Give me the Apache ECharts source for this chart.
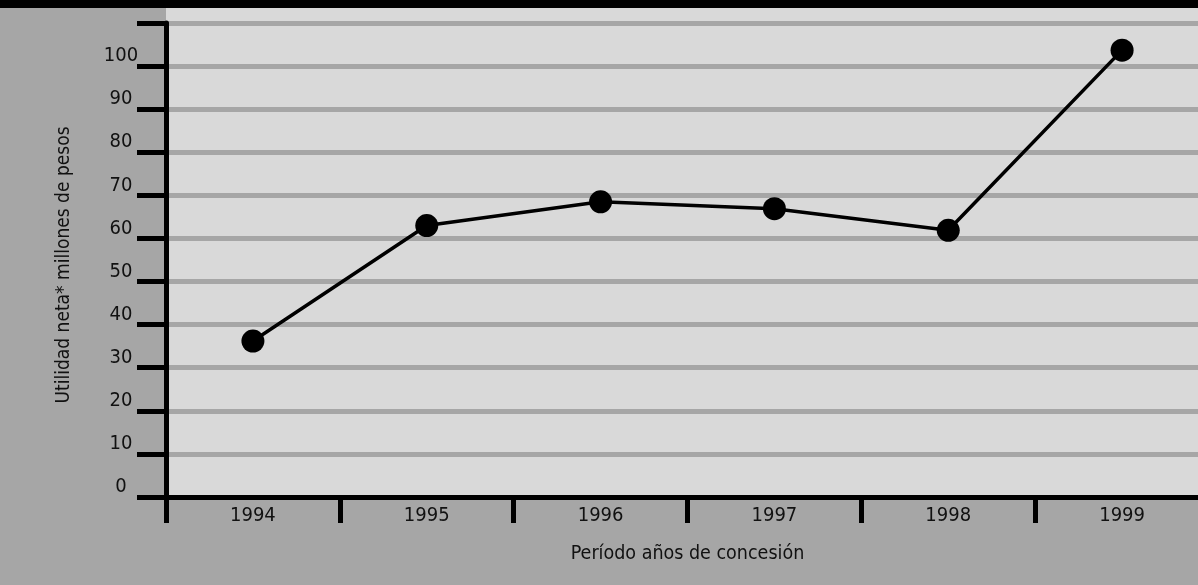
<!DOCTYPE html>
<html>
<head>
<meta charset="utf-8">
<script src="https://cdn.jsdelivr.net/npm/echarts@6/dist/echarts.min.js"></script>
<style>
  html, body { margin: 0; padding: 0; background: #a6a6a6; }
  #chart { width: 1198px; height: 585px; }
</style>
</head>
<body>
<div id="chart"></div>
<script>
const years = ['1994', '1995', '1996', '1997', '1998', '1999'];
const utilidad = [36.2, 63.0, 68.5, 66.9, 61.9, 103.7];
const yTicks = [0, 10, 20, 30, 40, 50, 60, 70, 80, 90, 100, 110];

const font = '"DejaVu Sans Condensed", "Liberation Sans", sans-serif';

const chart = echarts.init(document.getElementById('chart'));
const option = {
    backgroundColor: '#a6a6a6',
    animation: false,
    graphic: [
        // light panel behind the plot
        { type: 'rect', z: -10, shape: { x: 166, y: 8, width: 1040, height: 489 }, style: { fill: '#d9d9d9' } },
        // black band at the top
        { type: 'rect', z: 100, shape: { x: 0, y: 0, width: 1198, height: 8 }, style: { fill: '#000' } }
    ],
    grid: {
        left: 166,
        width: 1043,
        top: 23,
        bottom: 88,
        containLabel: false,
        outerBoundsMode: 'none'
    },
    xAxis: {
        type: 'category',
        data: years,
        boundaryGap: true,
        name: 'Período años de concesión',
        nameLocation: 'middle',
        nameGap: 47,
        nameTextStyle: { fontFamily: font, fontSize: 19.5, color: '#111' },
        axisLine: { lineStyle: { color: '#000', width: 5 } },
        axisTick: { show: true, length: 26, lineStyle: { color: '#000', width: 5 } },
        axisLabel: { fontFamily: font, fontSize: 20, color: '#111', margin: 9 },
        splitLine: { show: false }
    },
    yAxis: {
        type: 'value',
        min: yTicks[0],
        max: yTicks[yTicks.length - 1],
        interval: 10,
        name: 'Utilidad neta* millones de pesos',
        nameLocation: 'middle',
        nameRotate: 90,
        nameGap: 92,
        nameTextStyle: { fontFamily: font, fontSize: 19, color: '#111', padding: [0, 10, 0, 0] },
        axisLine: { show: true, lineStyle: { color: '#000', width: 5 } },
        axisTick: { show: true, length: 29, lineStyle: { color: '#000', width: 5 } },
        axisLabel: {
            fontFamily: font,
            fontSize: 20,
            color: '#111',
            margin: 45,
            align: 'center',
            verticalAlign: 'bottom',
            lineHeight: 20,
            formatter: v => (v === 110 ? '' : String(v))
        },
        splitLine: { show: true, lineStyle: { color: '#a6a6a6', width: 5 } }
    },
    series: [{
        type: 'line',
        data: utilidad,
        symbol: 'circle',
        symbolSize: 23,
        itemStyle: { color: '#000' },
        lineStyle: { color: '#000', width: 3.5 },
        z: 5
    }]
};
chart.setOption(option);
</script>
</body>
</html>
